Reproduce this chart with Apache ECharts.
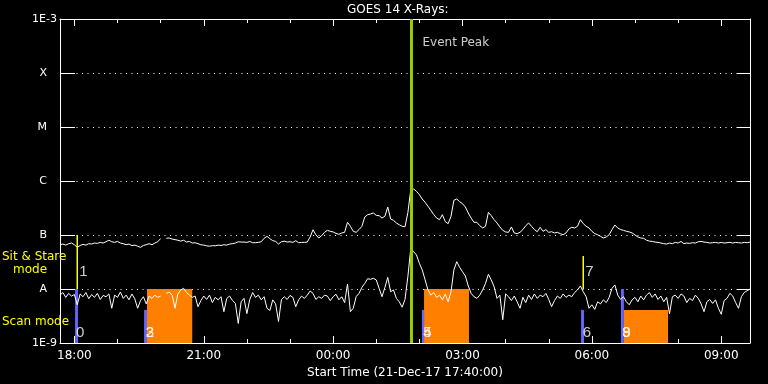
<!DOCTYPE html>
<html><head><meta charset="utf-8">
<script src="https://cdn.jsdelivr.net/npm/echarts@6/dist/echarts.min.js"></script>
<style>html,body{margin:0;padding:0;background:#000}#c{width:768px;height:384px}</style>
</head><body><div id="c"></div>
<script>
const chartTitle = 'GOES 14 X-Rays:';
const xAxisName = 'Start Time (21-Dec-17 17:40:00)';
// time in minutes after 21-Dec-17 00:00
const startMinute = 1060;   // 17:40
const endMinute = 2020;     // 09:40 next day
const stepMinutes = 4;      // sampling of the curves below
// GOES long channel (1-8 A), units of 1e-8 W/m^2
const longFluxE8 = [
 6.6,6.8,6.5,6.9,7.1,6.6,5.9,6.4,6.7,6.5, 6.9,6.8,7.1,7.0,7.3,7.1,7.5,8.0,7.5,7.3,
 7.6,7.1,6.9,6.6,6.8,6.35,6.5,6.2,5.9,6.4, 6.6,6.9,6.6,7.1,7.5,8.6,null,8.7,8.8,8.4,
 8.2,8.0,7.7,8.0,7.4,7.6,7.1,7.2,6.9,
 6.6,6.5,6.3,6.2,6.35,6.3,6.5,6.4,6.6,6.5, 6.8,6.9,7.1,7.5,7.4,7.4,7.3,7.6,7.2,7.2,
 7.3,7.5,8.7,9.45,8.55,7.85,7.6,6.8,7.5,7.7, 7.4,7.5,7.3,7.85,7.2,7.3,7.3,7.4,9.2,12.5,
 10.1,8.8,9.7,11.2,12.2,11.7,11.4,10.7,
 10.3,10.9,11.2,17.2,14.5,11.7,11.2,12.6,14.5,21.5, 23.8,24.5,25.6,23.1,22.8,20.6,22.2,33.0,19.8,18.7,
 16.7,15.5,14.5,14.2,26.0,69.2,71.1,64.4,55.8,46.4, 40.3,34.0,28.6,23.8,20.6,19.2,23.8,17.7,16.2,22.2,
 43.9,46.4,41.4,38.0,33.0,25.6,20.6,17.2,
 17.2,14.9,13.5,14.5,26.3,22.8,19.2,16.7,14.1,12.2, 11.4,11.2,14.1,10.9,10.6,11.2,12.6,14.9,16.7,14.5,
 12.6,11.5,13.9,11.7,12.6,11.2,11.5,10.9,11.2,10.6, 10.1,10.9,12.9,13.9,13.5,14.5,19.2,16.2,14.5,13.5,
 11.7,10.6,10.1,9.45,8.8,9.2,10.1,12.6,
 15.3,13.5,12.6,12.2,11.7,11.4,10.9,10.0,9.2,8.8, 8.7,8.0,7.7,7.6,7.4,7.3,7.1,6.9,6.8,7.1,
 6.9,7.3,7.1,7.6,6.9,7.1,7.0,7.2,7.1,7.5, 7.6,7.4,7.3,7.1,7.2,7.3,7.1,7.3,7.1,7.2,
 7.3,7.1,7.3,7.2,7.1,7.3,7.2,7.4
];
// GOES short channel (0.5-4 A), units of 1e-8 W/m^2
const shortFluxE8 = [
 0.77,0.86,0.70,0.83,0.74,0.79,0.51,0.81,0.72,0.86, 0.66,0.79,0.70,0.83,0.64,0.76,0.72,0.81,0.44,0.77,
 0.70,0.88,0.67,0.77,0.63,0.81,0.66,0.44,0.61,0.72, 0.53,0.74,0.67,0.77,0.70,0.74,null,0.83,0.88,0.77,
 0.44,0.81,0.96,1.03,0.86,0.77,0.70,0.74,0.47,
 0.61,0.74,0.64,0.77,0.56,0.70,0.63,0.72,0.38,0.67, 0.74,0.61,0.54,0.23,0.58,0.67,0.35,0.64,0.86,0.70,
 0.77,0.63,0.72,0.44,0.40,0.63,0.53,0.25,0.63,0.72, 0.64,0.76,0.70,0.47,0.63,0.74,0.67,0.77,0.92,0.83,
 0.64,0.72,0.67,0.77,0.74,0.61,0.72,0.80,
 0.63,0.72,0.56,1.24,0.38,0.44,0.72,0.83,1.07,1.27, 1.55,1.51,1.58,1.47,1.03,0.72,1.07,1.64,0.89,0.96,
 0.67,0.58,0.46,0.64,1.7,5.66,4.91,4.26,2.99,2.25, 1.47,0.96,0.77,0.86,0.70,0.77,0.63,0.81,0.58,0.89,
 2.25,3.21,2.52,2.09,1.74,1.14,0.83,0.72,
 0.67,0.77,0.96,1.27,1.87,1.47,1.10,0.67,0.77,0.27, 0.81,0.72,0.61,0.74,0.58,0.44,0.70,0.56,0.77,0.64,
 0.81,0.67,0.77,0.72,0.83,0.64,0.47,0.61,0.74,0.67, 0.81,0.70,0.77,0.72,0.86,0.96,1.14,0.89,0.72,0.44,
 0.51,0.42,0.58,0.53,0.63,0.56,0.70,1.03,
 1.19,0.77,0.64,0.72,0.58,0.51,0.63,0.70,0.58,0.74, 0.63,0.77,0.86,0.70,0.81,0.64,0.74,0.58,0.70,0.35,
 0.72,0.77,0.67,0.81,0.74,0.56,0.67,0.61,0.77,0.67, 0.53,0.38,0.58,0.64,0.54,0.63,0.44,0.34,0.61,0.67,
 0.83,0.74,0.56,0.44,0.72,0.86,0.93,1.0
];
const timeLabelMinutes = [1080,1260,1440,1620,1800,1980];
const hourTickMinutes = [1080,1140,1200,1260,1320,1380,1440,1500,1560,1620,1680,1740,1800,1860,1920,1980];
const yTickLabels = ['1E-9','A','B','C','M','X','1E-3'];
const eventPeakMinute = 1549;
const eventPeakLabel = 'Event Peak';
// scan mode markers: [start, end, top flux]
const scanBars = [[1081,1085,1e-8],[1177,1181,4.1e-9],[1563.5,1566.5,4.1e-9],[1785,1789,4.1e-9],[1840.5,1844.5,1e-8]];
const scanBlocks = [[1181,1244,1e-8],[1566.5,1629,1e-8],[1844.5,1906,4.1e-9]];
// sit & stare markers: [time, bottom flux, top flux]
const stareLines = [[1084,1e-8,1e-7],[1788,1e-8,4.1e-8]];
const scanLabels = [[1081,'0'],[1178,'2'],[1178,'3'],[1564,'4'],[1564,'5'],[1786,'6'],[1841,'8'],[1841,'9']];
const stareLabels = [[1084,'1'],[1788,'7']];
const scanLabelLevel = 1.53e-9;
const stareLabelLevel = 2.07e-8;
const eventLabelLevel = 3.6e-4;

const FONT = 'DejaVu Sans';
const toSeries = arr => arr.map((v, i) => [startMinute + i * stepMinutes, v == null ? '-' : v * 1e-8]);
const fmtTime = v => { const m = ((v % 1440) + 1440) % 1440; const h = Math.floor(m / 60), mm = Math.round(m % 60); return String(h).padStart(2,'0') + ':' + String(mm).padStart(2,'0'); };
const white = '#ffffff';

const chart = echarts.init(document.getElementById('c'), null, {renderer: 'canvas'});
const xCommon = {type: 'value', min: startMinute, max: endMinute, splitLine: {show: false}};
chart.setOption({
  backgroundColor: '#000',
  animation: false,
  textStyle: {fontFamily: FONT},
  title: {text: chartTitle, left: 347, top: 4, padding: 0, textStyle: {color: white, fontSize: 12, fontWeight: 'normal', fontFamily: FONT}},
  grid: {left: 60, top: 19, width: 690, height: 324, containLabel: false},
  xAxis: [
    Object.assign({}, xCommon, {position: 'bottom',
      axisLine: {show: true, lineStyle: {color: white, width: 1}},
      axisTick: {show: true, inside: true, length: 7, customValues: timeLabelMinutes, lineStyle: {color: white}},
      axisLabel: {show: true, customValues: timeLabelMinutes, formatter: fmtTime, color: white, fontSize: 12, margin: 7, fontFamily: FONT},
      name: xAxisName, nameLocation: 'middle', nameGap: 19, nameTextStyle: {color: white, fontSize: 12, fontFamily: FONT}}),
    Object.assign({}, xCommon, {position: 'bottom', axisLine: {show: false},
      axisTick: {show: true, inside: true, length: 4, customValues: hourTickMinutes, lineStyle: {color: white}},
      axisLabel: {show: false}}),
    Object.assign({}, xCommon, {position: 'top',
      axisLine: {show: true, lineStyle: {color: white, width: 1}},
      axisTick: {show: true, inside: true, length: 7, customValues: timeLabelMinutes, lineStyle: {color: white}},
      axisLabel: {show: false}}),
    Object.assign({}, xCommon, {position: 'top', axisLine: {show: false},
      axisTick: {show: true, inside: true, length: 4, customValues: hourTickMinutes, lineStyle: {color: white}},
      axisLabel: {show: false}})
  ],
  yAxis: [
    {type: 'log', logBase: 10, min: 1e-9, max: 1e-3, position: 'left',
     axisLine: {show: true, lineStyle: {color: white, width: 1}},
     axisTick: {show: true, inside: true, length: 15, lineStyle: {color: white}},
     axisLabel: {show: true, color: white, fontSize: 11, margin: 3, fontFamily: FONT,
       formatter: v => { const idx = Math.round(Math.log10(v)) + 9; const t = yTickLabels[idx]; return (idx === 0 || idx === 6) ? t : '{c|' + t + '}'; },
       rich: {c: {color: white, fontSize: 11, fontFamily: FONT, padding: [0, 10, 0, 0]}}},
     splitLine: {show: true, lineStyle: {color: white, width: 1, type: [1, 4.5]}}},
    {type: 'log', logBase: 10, min: 1e-9, max: 1e-3, position: 'right',
     axisLine: {show: true, lineStyle: {color: white, width: 1}},
     axisTick: {show: true, inside: true, length: 13, lineStyle: {color: white}},
     axisLabel: {show: false}, splitLine: {show: false}}
  ],
  graphic: [
    {type: 'text', left: 2, top: 251, style: {text: 'Sit & Stare', fill: '#ffff00', fontSize: 12, fontFamily: FONT}},
    {type: 'text', left: 13, top: 264, style: {text: 'mode', fill: '#ffff00', fontSize: 12, fontFamily: FONT}},
    {type: 'text', left: 2, top: 316, style: {text: 'Scan mode', fill: '#ffff00', fontSize: 12, fontFamily: FONT}}
  ],
  series: [
    {type: 'custom', name: 'scan blocks', z: 1, data: scanBlocks, encode: {x: [0, 1], y: 2},
     renderItem: (params, api) => {
       const p0 = api.coord([api.value(0), api.value(2)]);
       const p1 = api.coord([api.value(1), 1e-9]);
       return {type: 'rect', shape: {x: p0[0], y: p0[1], width: p1[0] - p0[0], height: p1[1] - p0[1]}, style: {fill: '#ff8000'}};
     }},
    {type: 'custom', name: 'scan bars', z: 1, data: scanBars, encode: {x: [0, 1], y: 2},
     renderItem: (params, api) => {
       const p0 = api.coord([api.value(0), api.value(2)]);
       const p1 = api.coord([api.value(1), 1e-9]);
       return {type: 'rect', shape: {x: p0[0], y: p0[1], width: p1[0] - p0[0], height: p1[1] - p0[1]}, style: {fill: '#6666ff'}};
     }},
    {type: 'line', name: 'long', z: 2, data: toSeries(longFluxE8), showSymbol: false, symbol: 'none',
     lineStyle: {color: white, width: 1}, connectNulls: false},
    {type: 'line', name: 'short', z: 2, data: toSeries(shortFluxE8), showSymbol: false, symbol: 'none',
     lineStyle: {color: white, width: 1}, connectNulls: false},
    {type: 'custom', name: 'stare', z: 3, data: stareLines, encode: {x: 0, y: [1, 2]},
     renderItem: (params, api) => {
       const a = api.coord([api.value(0), api.value(1)]);
       const b = api.coord([api.value(0), api.value(2)]);
       return {type: 'line', shape: {x1: a[0], y1: a[1], x2: b[0], y2: b[1]}, style: {stroke: '#ffff00', lineWidth: 1.5}};
     }},
    {type: 'scatter', name: 'scan labels', z: 4, symbolSize: 0,
     data: scanLabels.map(d => ({value: [d[0], scanLabelLevel], name: d[1]})),
     label: {show: true, position: 'right', distance: 1, formatter: '{b}', color: white, fontSize: 15, fontFamily: 'Liberation Sans'}},
    {type: 'scatter', name: 'stare labels', z: 4, symbolSize: 0,
     data: stareLabels.map(d => ({value: [d[0], stareLabelLevel], name: d[1]})),
     label: {show: true, position: 'right', distance: 2, formatter: '{b}', color: white, fontSize: 15, fontFamily: 'Liberation Sans'}},
    {type: 'scatter', name: 'event', z: 5, symbolSize: 0,
     data: [{value: [eventPeakMinute, eventLabelLevel], name: eventPeakLabel}],
     label: {show: true, position: 'right', distance: 11, formatter: '{b}', color: white, fontSize: 12, fontFamily: FONT},
     markLine: {silent: true, symbol: ['none', 'none'], label: {show: false}, animation: false,
       lineStyle: {color: '#99cc00', width: 3, type: 'solid'}, data: [{xAxis: eventPeakMinute}]}}
  ]
});
</script></body></html>
